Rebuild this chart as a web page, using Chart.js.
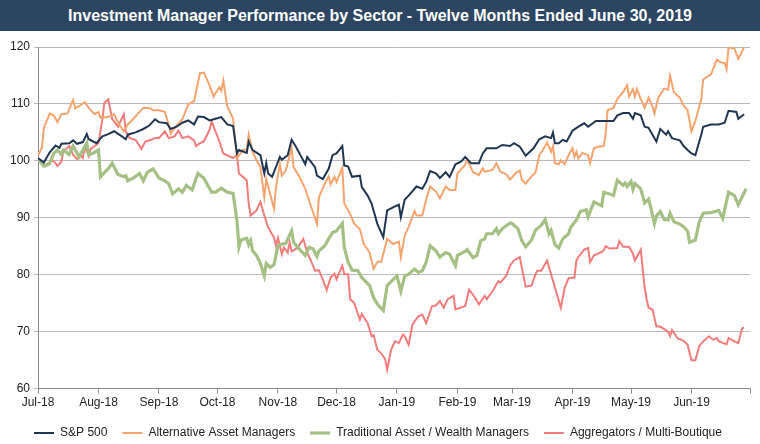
<!DOCTYPE html>
<html>
<head>
<meta charset="utf-8">
<script src="https://cdn.jsdelivr.net/npm/chart.js@4.4.1/dist/chart.umd.min.js"></script>
<style>
  html, body { margin: 0; padding: 0; background: #ffffff; }
  body { width: 760px; height: 444px; overflow: hidden; }
  #title {
    height: 31px; background: #2c4662; color: #ffffff;
    font-family: "Liberation Sans Narrow", "Arial Narrow", "Liberation Sans", Arial, sans-serif;
    font-weight: bold; font-size: 16px; line-height: 32px; text-align: center;
  }
  #wrap { position: relative; width: 760px; height: 413px; }
</style>
</head>
<body>
<div id="title">Investment Manager Performance by Sector - Twelve Months Ended June 30, 2019</div>
<div id="wrap"><canvas id="c"></canvas></div>
<script>
// Days since 1 July 2018
const monthTicks = [0, 31, 62, 92, 123, 153, 184, 215, 243, 274, 304, 335, 365];
const monthLabels = ["Jul-18", "Aug-18", "Sep-18", "Oct-18", "Nov-18", "Dec-18", "Jan-19", "Feb-19", "Mar-19", "Apr-19", "May-19", "Jun-19", ""];
const yTicks = [60, 70, 80, 90, 100, 110, 120];

const seriesNames = ["S&P 500", "Alternative Asset Managers", "Traditional Asset / Wealth Managers", "Aggregators / Multi-Boutique"];

const spDays = [0,3,6,9,11,12,16,18,20,23,25,26,30,33,36,39,43,45,46,50,54,57,60,62,66,68,71,74,77,80,82,85,88,91,94,97,100,102,103,107,108,110,114,116,117,118,120,124,125,128,130,132,135,137,138,142,143,146,149,151,153,156,157,159,161,165,166,169,171,174,177,179,183,185,186,188,190,194,197,199,201,204,206,209,211,214,217,219,222,226,228,230,235,238,242,244,247,250,254,257,260,263,264,265,267,269,271,274,277,280,282,286,290,295,297,300,303,305,306,309,311,313,315,317,319,322,323,325,329,331,333,335,337,340,341,345,349,352,354,358,359,362];
const spValues = [100.5,99.7,101.5,102.7,102.3,103,103.1,103.6,103,103.3,104.7,103.8,103.1,104.3,104.7,105.2,104.3,103.8,104.6,105,105.6,106.2,107.3,106.8,106.6,105.6,106,106.7,107.1,106.4,107.8,107.7,107.1,107.4,107.7,106.4,106.1,101.3,101.9,101.4,103.4,101.9,101,97.8,99.6,97.8,97.2,100.7,100.2,101,103.7,102.6,100.7,99.4,100.7,98.9,97.4,96.8,98.6,101,101.3,102.6,99.2,99,97.2,97.4,95.4,93.9,92.5,88.9,86.6,91.3,92,92.3,90.1,93.2,93.9,95.5,95.1,96.3,98.2,97.8,97,98,97.2,99.4,99.9,100.7,99.6,99.6,101.3,102.2,102.2,102.8,102.6,103.1,102.5,100.9,102.2,103.8,104.3,104,105,103.1,103.1,103.7,103.4,105.3,106,106.6,106,107,107,107,108,108.4,108.4,107.4,108.4,108,106,105.8,104.6,103.4,105.6,104.6,105.2,104,103.6,102.6,101.9,101.3,101,104.6,106,106.4,106.4,106.7,108.8,108.6,107.4,108.2];

const altDays = [0,2,3,6,8,10,12,15,18,19,21,24,26,29,31,32,36,39,41,44,46,49,51,54,57,59,62,65,67,68,71,74,77,80,83,85,88,90,91,93,94,95,97,100,101,102,105,107,108,110,112,114,116,117,119,121,122,124,125,127,130,131,134,137,139,143,144,147,149,150,152,153,156,157,160,162,165,167,170,172,174,176,179,181,182,185,186,188,190,193,194,197,199,201,204,206,209,211,214,215,219,220,223,226,228,229,233,235,237,240,242,245,247,248,250,253,255,257,260,261,263,264,265,267,268,270,272,274,275,276,277,279,282,283,285,287,290,291,292,295,297,300,302,303,305,306,307,309,311,313,315,316,318,321,323,324,326,329,331,333,335,337,340,341,345,348,350,352,353,354,357,359,362];
const altValues = [101,102.3,105.8,108.3,108,106.8,108.2,108.3,110.7,109.2,109.6,110.3,109.3,108.2,108.6,107.6,107.7,108.2,106.7,105.2,106.4,107.4,108.2,109.3,109.3,108.9,108.9,108.6,106.4,104.8,106.2,107.3,109.9,110.5,115.4,115.5,113.2,111.3,111.9,112.9,112.3,114.1,109.6,107.4,103.7,100.5,101.9,102,104.6,101.6,100.1,98.9,93.6,96.8,94.2,91.6,95.4,99.4,97.4,98.3,102.3,98.9,97.2,95.1,93,88.9,93.6,96,97.3,95.9,97.2,96.3,98.8,92.5,90.7,89,88,85.4,83.9,81,82.3,82.3,86.3,85.7,85.4,85.8,83.1,86.9,88.4,91.2,90.4,90.4,93.2,95.5,94.6,93.4,95.5,94.9,94.9,97.8,99.3,100.2,98,97.5,98.7,98.1,98.4,99.6,98.1,97.7,96.7,97.9,98.3,96.7,96,97.3,97.9,101,102.6,103.2,101.6,102.6,99.6,99.4,100.1,99.4,101,102.2,100.7,101.6,100.4,101.4,101,99.6,102.2,102.5,102.6,104.7,108.9,109.3,110.9,112.1,113.3,111.3,112.6,111.3,112.6,110.9,109.3,111.1,109.6,108.3,111.1,112.7,112.5,115,112,111.1,109.7,108.9,105.2,107,110.8,114.3,115.2,117.8,117.3,117.2,116.1,120,119.7,117.9,120];

const tradDays = [0,3,6,8,10,12,13,16,18,21,23,25,26,28,31,32,35,36,38,41,44,45,46,49,52,54,56,59,62,65,67,69,72,74,76,79,82,85,87,89,91,94,97,100,102,103,104,107,108,109,110,112,114,116,117,119,121,123,125,127,130,131,134,137,139,141,143,144,147,149,151,153,156,157,159,161,164,166,168,170,172,174,177,179,181,184,186,188,190,193,195,197,199,201,204,206,209,211,214,215,219,220,223,225,227,229,230,233,235,236,238,242,243,246,248,250,253,255,258,260,262,263,265,267,269,272,273,276,278,281,282,285,289,290,293,295,297,300,301,302,304,305,306,309,311,313,314,316,317,319,321,323,324,326,329,331,333,334,337,339,341,345,349,351,354,357,359,363];
const tradValues = [100.3,99.1,99.5,101.3,101.9,101.1,101.9,101.1,102.6,100.7,101.9,103.1,101.1,101.3,101.9,97.2,98.3,98.6,99.6,97.6,97.2,97.4,96.5,97,97.8,96.5,98,98.6,97,96.5,96,94.2,95.1,94.5,95.7,94.9,97.8,97,95.7,94.5,94.5,95.2,94.5,94.3,89.5,84.9,86.1,86.4,85.3,86,84.2,83.4,82,79.8,82,81.3,81.8,85.1,85.4,85.5,87.7,85.7,84.5,83.4,84.8,84.5,83.2,84.2,85.1,86.3,87.4,87.7,89,84.8,82.2,80.8,80.7,79.5,78.8,78.1,76,74.8,73.7,78.1,78.8,79.8,77.1,79.8,80.1,81,80.4,80.7,82.2,85.1,84.2,83.1,83.9,83.6,81.6,83.4,84.1,84.4,83,83.4,86,86.3,87.2,87.2,88.1,87.2,88.1,89.1,89,88.1,86,84.9,86.1,87.8,88.7,89.7,87.2,87.8,85.3,84.7,86.3,87.2,88.3,89.6,91.1,91.4,90.2,92.8,92.1,94.5,94.2,93.9,96.6,95.7,96.1,95.5,96.4,95,96,95.1,92.6,93.3,92,89,90.3,91.1,89.7,89.6,90.8,89.3,88.9,88.4,87.7,85.7,86.1,89.3,90.8,90.9,91.3,89.9,94.5,93.9,92.3,95.1];

const aggDays = [0,3,7,8,10,12,13,16,18,20,22,23,24,26,27,31,33,34,36,38,41,44,45,47,50,53,55,58,60,62,65,67,70,72,74,77,80,81,83,85,88,89,93,95,100,102,103,107,108,109,112,114,116,118,120,121,122,123,125,126,128,129,130,133,136,138,140,142,144,146,148,150,152,153,156,157,159,160,162,165,166,169,171,172,174,176,178,179,181,183,185,187,188,190,192,195,197,199,202,204,206,208,210,213,214,219,221,224,226,229,230,233,236,237,240,242,244,247,248,250,253,255,256,258,261,263,266,268,270,272,275,276,277,280,282,283,285,289,290,291,293,297,298,300,303,305,306,309,311,312,313,315,317,319,323,324,325,328,331,333,335,337,339,341,344,346,348,349,353,354,357,359,361,362];
const aggValues = [100.3,99.1,100,100,99.1,99.9,101.7,102.6,101.1,100.3,100.8,100.5,102.5,100.8,102.1,103.1,107.3,110.2,110.8,107.4,106,108.2,105.2,104,103.7,102.1,103.4,103.7,104,104,105.2,104,104.3,105.3,104,104.3,103.6,102.6,103.1,103.4,105.5,106.9,103.4,101.3,100.5,101,97.8,96.6,92.5,90.4,91.3,92.8,90.4,88.3,87.1,86.5,85.1,86.5,83.6,84.8,83.9,85.7,84.1,84.7,86.3,83.9,82.4,80.7,80.8,79.2,77.3,79.5,80.2,79.2,81.6,80.1,80.1,75.7,75.1,72.1,73.1,71.5,69.2,69.4,66.8,66.2,65.1,63.3,66.8,68.3,68,69.5,69.2,67.7,71.3,72.7,73,71.5,74.5,74.6,75.4,74.2,75.7,76.3,73.9,74.5,77.4,76,74.8,76.3,75.7,77.1,78.9,78.6,79.8,81.6,82.5,83.1,81.3,77.9,78.1,80.1,80.7,80.7,82.5,80.1,76.6,74.2,77.7,79.4,79.5,82.5,83.1,84.4,84.7,82.2,83.4,84,84.3,85,84.6,84.7,85.9,84.9,84.9,83.7,82.5,84.4,77.7,75.7,74.2,73.9,70.9,70.9,70,69.2,70.3,68.8,68.4,67.7,65,65,67.5,68.3,69.2,68.6,68.9,68.3,67.8,68.9,68.3,68,70.6,70.7];

const seriesColors = ["#1f3652", "#f5a46e", "#a4c084", "#f27c7c"];
const seriesWidths = [2, 2, 3.2, 2];

function pts(days, vals) { return days.map((d, i) => ({ x: d, y: vals[i] })); }
const allDays = [spDays, altDays, tradDays, aggDays];
const allVals = [spValues, altValues, tradValues, aggValues];

const FONT = "'Liberation Sans', Arial, sans-serif";

new Chart(document.getElementById('c'), {
  type: 'line',
  data: {
    datasets: seriesNames.map((n, k) => ({
      label: n,
      data: pts(allDays[k], allVals[k]),
      borderColor: seriesColors[k],
      backgroundColor: seriesColors[k],
      borderWidth: seriesWidths[k],
      pointRadius: 0,
      tension: 0,
      fill: false
    }))
  },
  options: {
    responsive: true,
    maintainAspectRatio: false,
    animation: false,
    layout: { padding: { top: 16, left: 6, right: 10, bottom: -5 } },
    plugins: {
      legend: {
        position: 'bottom',
        labels: {
          usePointStyle: true,
          pointStyle: 'line',
          pointStyleWidth: 20,
          boxHeight: 12,
          padding: 15,
          color: '#222222',
          font: { family: FONT, size: 12 }
        }
      },
      tooltip: { enabled: false }
    },
    scales: {
      x: {
        type: 'linear',
        min: 0, max: 365,
        afterBuildTicks: (axis) => { axis.ticks = monthTicks.map(v => ({ value: v })); },
        ticks: {
          autoSkip: false, maxRotation: 0, padding: 2,
          color: '#222222', font: { family: FONT, size: 12 },
          callback: (v) => { const i = monthTicks.indexOf(v); return i >= 0 ? monthLabels[i] : ''; }
        },
        grid: { drawOnChartArea: false, drawTicks: true, tickLength: 5, color: '#8c8c8c' },
        border: { display: true, color: '#8c8c8c', width: 1 }
      },
      y: {
        min: 60, max: 120,
        afterBuildTicks: (axis) => { axis.ticks = yTicks.map(v => ({ value: v })); },
        ticks: { padding: 4, color: '#222222', font: { family: FONT, size: 12 } },
        grid: { color: '#b8b8b8', lineWidth: 1, tickLength: 4, drawTicks: true },
        border: { display: true, color: '#8c8c8c', width: 1 }
      }
    }
  }
});
</script>
</body>
</html>
